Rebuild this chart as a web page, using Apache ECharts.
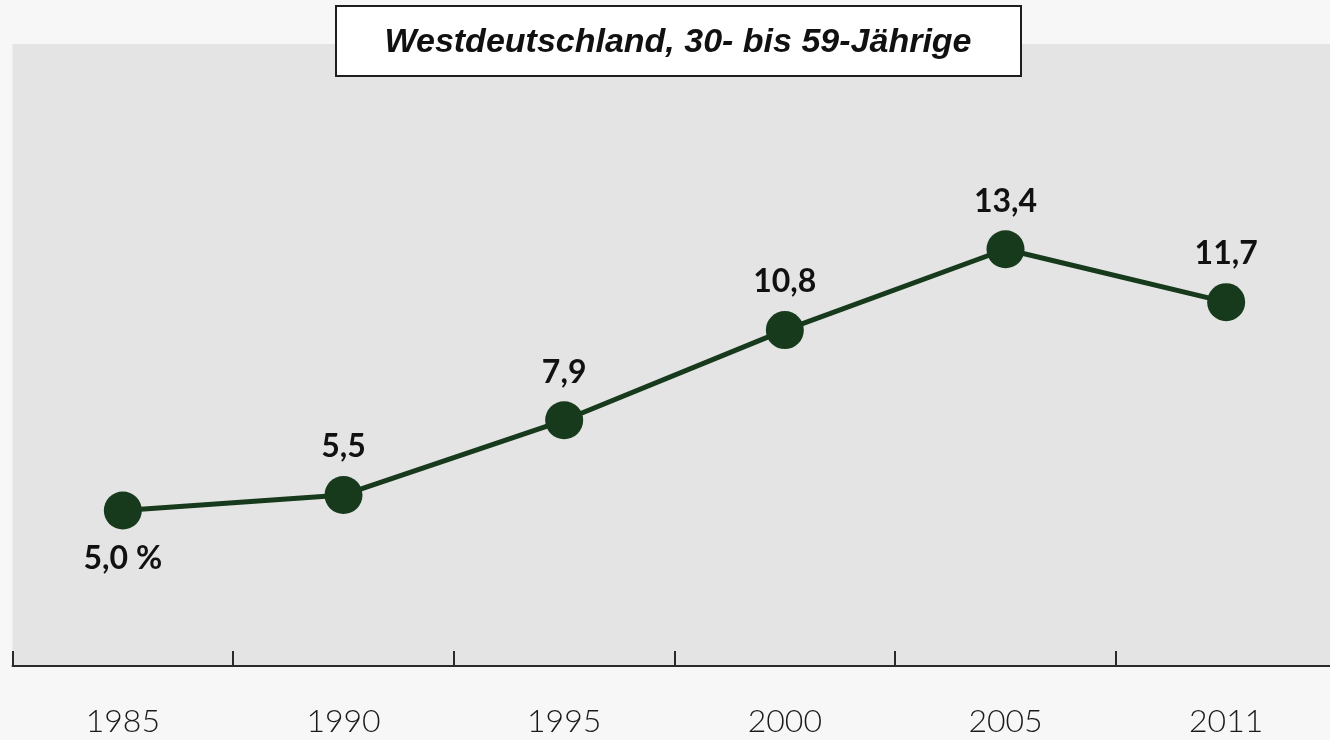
<!DOCTYPE html>
<html><head><meta charset="utf-8">
<script src="https://cdn.jsdelivr.net/npm/echarts@6/dist/echarts.min.js"></script>
<style>html,body{margin:0;padding:0;background:#f7f7f7;}#c{width:1330px;height:740px;}</style>
</head><body><div id="c"></div>
<script>
const categories = ['1985', '1990', '1995', '2000', '2005', '2011'];
const values = [5.0, 5.5, 7.9, 10.8, 13.4, 11.7];
const titleText = 'Westdeutschland, 30- bis 59-Jährige';
const unitSuffix = ' %';

const chart = echarts.init(document.getElementById('c'), null, {renderer: 'canvas'});
const lineColor = '#173a1d';
chart.setOption({
  backgroundColor: '#f7f7f7',
  animation: false,
  grid: {left: 12.5, top: 44, width: 1324, height: 622, show: true, backgroundColor: '#e4e4e4', borderWidth: 0,
         containLabel: false, outerBoundsMode: 'none'},
  xAxis: {
    type: 'category', data: categories, boundaryGap: true,
    axisLine: {show: true, lineStyle: {color: '#2a2a2a', width: 2}},
    axisTick: {show: true, interval: 0, alignWithLabel: false, inside: true, length: 15, lineStyle: {color: '#2a2a2a', width: 2}},
    axisLabel: {margin: 40, fontFamily: 'Lato', fontWeight: 300, fontSize: 32, color: '#1a1a1a'}
  },
  yAxis: {type: 'value', min: 0, max: 20, show: false, splitLine: {show: false}},
  graphic: [
    {type: 'rect', shape: {x: 336, y: 6, width: 685, height: 70},
     style: {fill: '#ffffff', stroke: '#1e1e1e', lineWidth: 2}, z: 10},
    {type: 'text', x: 678, y: 43, z: 11,
     style: {text: titleText, fill: '#111', font: 'italic bold 34px "Liberation Sans", Arial, sans-serif',
             textAlign: 'center', textVerticalAlign: 'middle'}}
  ],
  series: [{
    type: 'line',
    symbol: 'circle', symbolSize: 38,
    lineStyle: {color: lineColor, width: 5},
    itemStyle: {color: lineColor},
    label: {
      show: true, distance: 13, fontFamily: 'Lato', fontWeight: 'bold', fontSize: 32, color: '#111',
      position: 'top',
      formatter: p => {
        const s = p.value.toFixed(1).replace('.', ',');
        return p.dataIndex === 0 ? s + unitSuffix : s;
      }
    },
    data: values.map((v, i) => i === 0 ? {value: v, label: {position: 'bottom'}} : v)
  }]
});
</script></body></html>
